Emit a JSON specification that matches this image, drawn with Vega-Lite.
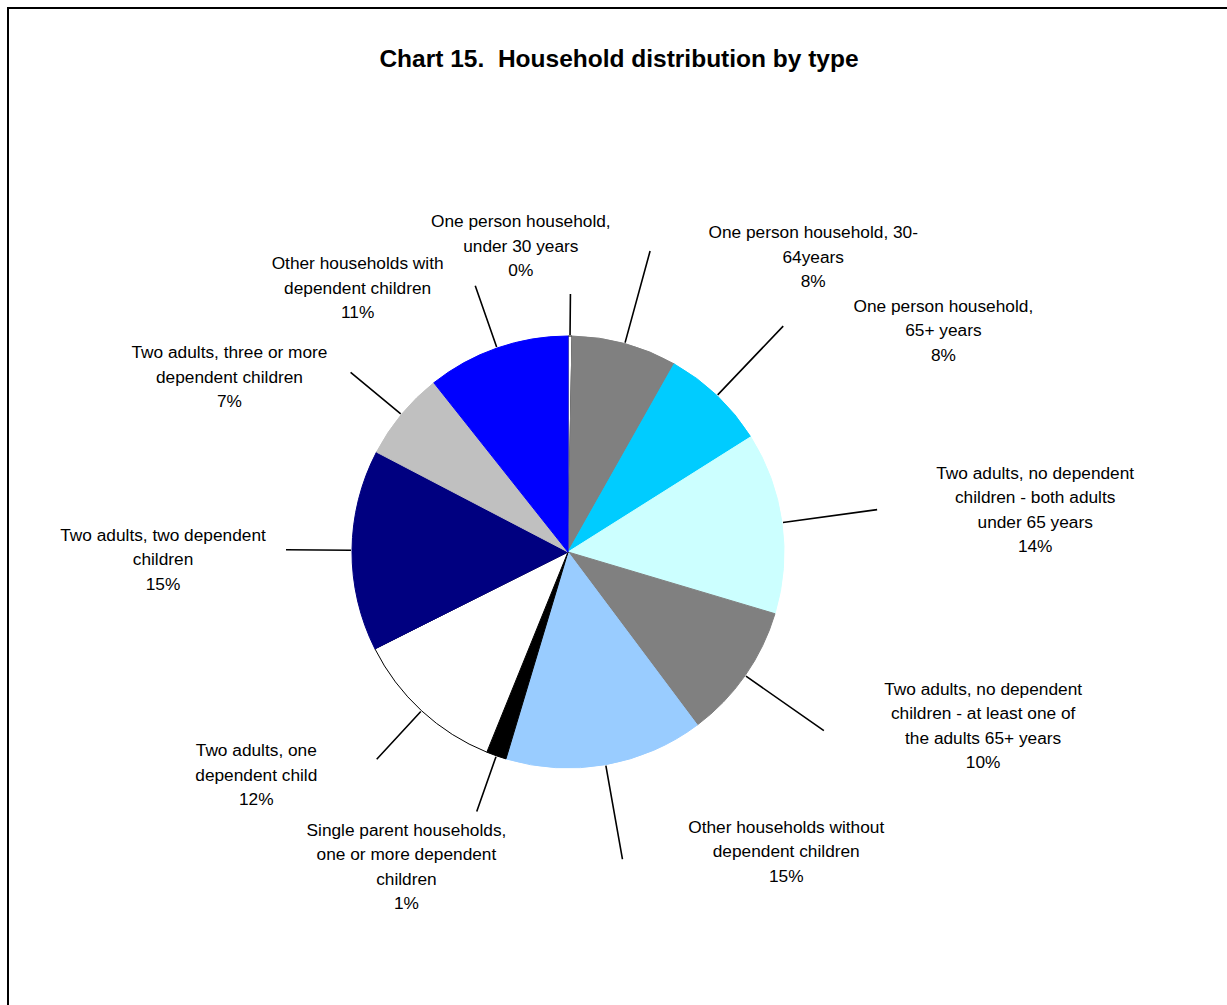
{
  "$schema": "https://vega.github.io/schema/vega-lite/v6.json",
  "autosize": {"type": "none"},
  "padding": {"left": 8, "top": 8, "right": -3, "bottom": -3},
  "width": 1222,
  "height": 1000,
  "background": "white",
  "view": {"stroke": "black", "strokeWidth": 2, "fill": "white"},
  "title": {
    "text": "Chart 15.\u00a0 Household distribution by type",
    "anchor": "middle",
    "frame": "group",
    "orient": "top",
    "offset": -83,
    "baseline": "alphabetic",
    "font": "Liberation Sans",
    "fontSize": 24.5,
    "fontWeight": "bold",
    "color": "black"
  },
  "config": {
    "view": {"stroke": "black", "strokeWidth": 2},
    "text": {"font": "Liberation Sans", "fontSize": 17.3, "lineHeight": 24.5, "color": "black"}
  },
  "data": {
    "values": [
      {"idx": 1, "cat": "One person household, under 30 years", "label": "One person household,\nunder 30 years\n0%", "share": 0.3},
      {"idx": 2, "cat": "One person household, 30-64years", "label": "One person household, 30-\n64years\n8%", "share": 7.9},
      {"idx": 3, "cat": "One person household, 65+ years", "label": "One person household,\n65+ years\n8%", "share": 7.9},
      {"idx": 4, "cat": "Two adults, no dependent children - both adults under 65 years", "label": "Two adults, no dependent\nchildren - both adults\nunder 65 years\n14%", "share": 13.6},
      {"idx": 5, "cat": "Two adults, no dependent children - at least one of the adults 65+ years", "label": "Two adults, no dependent\nchildren - at least one of\nthe adults 65+ years\n10%", "share": 10.2},
      {"idx": 6, "cat": "Other households without dependent children", "label": "Other households without\ndependent children\n15%", "share": 14.9},
      {"idx": 7, "cat": "Single parent households, one or more dependent children", "label": "Single parent households,\none or more dependent\nchildren\n1%", "share": 1.5},
      {"idx": 8, "cat": "Two adults, one dependent child", "label": "Two adults, one\ndependent child\n12%", "share": 11.5},
      {"idx": 9, "cat": "Two adults, two dependent children", "label": "Two adults, two dependent\nchildren\n15%", "share": 15.1},
      {"idx": 10, "cat": "Two adults, three or more dependent children", "label": "Two adults, three or more\ndependent children\n7%", "share": 6.7},
      {"idx": 11, "cat": "Other households with dependent children", "label": "Other households with\ndependent children\n11%", "share": 10.7}
    ]
  },
  "encoding": {
    "theta": {"field": "share", "type": "quantitative", "stack": true},
    "order": {"field": "idx", "type": "quantitative"},
    "detail": {"field": "cat", "type": "nominal"}
  },
  "layer": [
    {
      "mark": {"type": "arc", "outerRadius": 216, "xOffset": -51, "yOffset": 44, "strokeWidth": 1},
      "encoding": {
        "color": {
          "field": "cat", "type": "nominal", "legend": null,
          "scale": {
            "domain": ["One person household, under 30 years", "One person household, 30-64years", "One person household, 65+ years", "Two adults, no dependent children - both adults under 65 years", "Two adults, no dependent children - at least one of the adults 65+ years", "Other households without dependent children", "Single parent households, one or more dependent children", "Two adults, one dependent child", "Two adults, two dependent children", "Two adults, three or more dependent children", "Other households with dependent children"],
            "range": ["#FFFFFF", "#808080", "#00CCFF", "#CCFFFF", "#808080", "#99CCFF", "#000000", "#FFFFFF", "#000080", "#C0C0C0", "#0000FF"]
          }
        },
        "stroke": {
          "field": "cat", "type": "nominal", "legend": null,
          "scale": {
            "domain": ["One person household, under 30 years", "One person household, 30-64years", "One person household, 65+ years", "Two adults, no dependent children - both adults under 65 years", "Two adults, no dependent children - at least one of the adults 65+ years", "Other households without dependent children", "Single parent households, one or more dependent children", "Two adults, one dependent child", "Two adults, two dependent children", "Two adults, three or more dependent children", "Other households with dependent children"],
            "range": ["#000000", "#808080", "#00CCFF", "#CCFFFF", "#808080", "#99CCFF", "#000000", "#000000", "#000080", "#C0C0C0", "#0000FF"]
          }
        }
      }
    },
    {
      "mark": {"type": "arc", "innerRadius": 217, "outerRadius": 312, "padAngle": 3, "xOffset": -51, "yOffset": 44, "stroke": "black", "strokeWidth": 1.6, "fill": "transparent"},
      "encoding": {
        "strokeOpacity": {"condition": {"test": "datum.idx >= 2 && datum.idx <= 6", "value": 1}, "value": 0}
      }
    },
    {
      "mark": {"type": "arc", "innerRadius": 217, "outerRadius": 275, "padAngle": 3, "xOffset": -51, "yOffset": 44, "stroke": "black", "strokeWidth": 1.6, "fill": "transparent"},
      "encoding": {
        "strokeOpacity": {"condition": {"test": "datum.idx == 7", "value": 1}, "value": 0}
      }
    },
    {
      "mark": {"type": "arc", "innerRadius": 217, "outerRadius": 282, "padAngle": 3, "xOffset": -51, "yOffset": 44, "stroke": "black", "strokeWidth": 1.6, "fill": "transparent"},
      "encoding": {
        "strokeOpacity": {"condition": {"test": "datum.idx >= 8", "value": 1}, "value": 0}
      }
    },
    {
      "mark": {"type": "arc", "innerRadius": 217, "outerRadius": 258, "padAngle": 3, "xOffset": -51, "yOffset": 44, "stroke": "black", "strokeWidth": 1.6, "fill": "transparent"},
      "encoding": {
        "strokeOpacity": {"condition": {"test": "datum.idx == 1", "value": 1}, "value": 0}
      }
    },
    {
      "mark": {"type": "text", "radius": 300, "align": "center", "baseline": "middle", "dx": -50, "dy": -30, "lineBreak": "\n", "xOffset": -51, "yOffset": 44},
      "encoding": {
        "text": {"condition": {"test": "datum.idx == 1", "field": "label", "type": "nominal"}, "value": ""}
      }
    },
    {
      "mark": {"type": "text", "radius": 305, "align": "center", "baseline": "middle", "dx": 165, "dy": -24.5, "lineBreak": "\n", "xOffset": -51, "yOffset": 44},
      "encoding": {
        "text": {"condition": {"test": "datum.idx == 2 || datum.idx == 3 || datum.idx == 6", "field": "label", "type": "nominal"}, "value": ""}
      }
    },
    {
      "mark": {"type": "text", "radius": 305, "align": "center", "baseline": "middle", "dx": 165, "dy": -36.75, "lineBreak": "\n", "xOffset": -51, "yOffset": 44},
      "encoding": {
        "text": {"condition": {"test": "datum.idx == 4 || datum.idx == 5", "field": "label", "type": "nominal"}, "value": ""}
      }
    },
    {
      "mark": {"type": "text", "radius": 300, "align": "center", "baseline": "middle", "dx": -62, "dy": -4, "lineBreak": "\n", "xOffset": -51, "yOffset": 44},
      "encoding": {
        "text": {"condition": {"test": "datum.idx == 7", "field": "label", "type": "nominal"}, "value": ""}
      }
    },
    {
      "mark": {"type": "text", "radius": 290, "align": "center", "baseline": "middle", "dx": -115, "dy": -14, "lineBreak": "\n", "xOffset": -51, "yOffset": 44},
      "encoding": {
        "text": {"condition": {"test": "datum.idx >= 8", "field": "label", "type": "nominal"}, "value": ""}
      }
    }
  ]
}
